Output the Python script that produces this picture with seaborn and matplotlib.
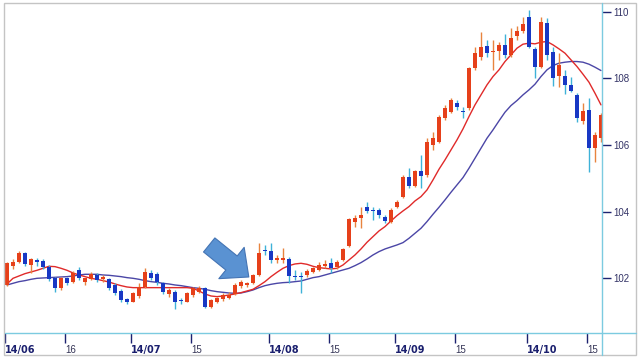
import numpy as np
import pandas as pd
import seaborn as sns
import matplotlib.pyplot as plt
from matplotlib.patches import Rectangle
from matplotlib.lines import Line2D

# daily candles, 2014-06-02 .. 2014-10-17 (trading days)
open_ = [101.8, 102.38, 102.5, 102.75, 102.4, 102.55, 102.52, 102.35, 102.02, 101.72,
         102.0, 101.88, 102.25, 101.9, 101.98, 102.1, 101.98, 101.98, 101.8, 101.62,
         101.38, 101.3, 101.48, 101.75, 102.15, 102.12, 101.85, 101.52, 101.6, 101.36,
         101.3, 101.5, 101.6, 101.72, 101.15, 101.3, 101.38, 101.42, 101.52, 101.78,
         101.8, 101.85, 102.1, 102.85, 102.82, 102.55, 102.55, 102.58, 102.05, 102.08,
         102.1, 102.2, 102.25, 102.37, 102.45, 102.35, 102.55, 102.97, 103.7, 103.8,
         104.15, 104.05, 104.05, 103.85, 103.7, 104.13, 104.43, 105.05, 104.77, 105.22,
         105.1, 106.0, 106.1, 106.8, 107.0, 107.27, 107.02, 107.1, 108.3, 108.65,
         108.97, 108.78, 108.83, 109.0, 108.7, 109.28, 109.42, 109.85, 108.87, 108.35,
         109.67, 108.8, 108.07, 108.07, 107.8, 107.5, 106.73, 107.05, 105.9, 106.2]
high_ = [102.48, 102.57, 102.82, 102.8, 102.62, 102.62, 102.58, 102.4, 102.05, 102.05,
         102.05, 102.22, 102.35, 102.02, 102.2, 102.15, 102.1, 102.0, 101.85, 101.68,
         101.42, 101.58, 101.85, 102.3, 102.25, 102.2, 101.9, 101.72, 101.65, 101.4,
         101.6, 101.75, 101.78, 101.75, 101.38, 101.45, 101.55, 101.58, 101.85, 101.95,
         101.9, 102.13, 103.05, 103.0, 103.05, 102.7, 102.92, 102.65, 102.25, 102.18,
         102.28, 102.35, 102.48, 102.55, 102.6, 102.55, 102.92, 103.82, 103.9, 104.15,
         104.28, 104.15, 104.1, 103.9, 104.1, 104.35, 105.1, 105.3, 105.25, 105.7,
         106.2, 106.4, 106.9, 107.2, 107.4, 107.35, 107.15, 108.35, 108.95, 109.4,
         109.15, 109.15, 109.1, 109.33, 109.5, 109.57, 109.85, 110.05, 108.95, 109.85,
         109.8, 108.95, 108.75, 108.25, 108.05, 107.55, 107.25, 107.4, 106.4, 106.95]
low_ = [101.78, 102.27, 102.45, 102.38, 102.15, 102.38, 102.28, 101.93, 101.6, 101.65,
        101.8, 101.85, 101.95, 101.8, 101.95, 101.9, 101.9, 101.65, 101.5, 101.3,
        101.22, 101.28, 101.4, 101.72, 101.95, 101.8, 101.52, 101.45, 101.08, 101.22,
        101.28, 101.45, 101.55, 101.1, 101.1, 101.25, 101.33, 101.38, 101.5, 101.72,
        101.75, 101.82, 102.08, 102.7, 102.45, 102.45, 102.45, 101.86, 101.95, 101.56,
        102.05, 102.15, 102.22, 102.3, 102.15, 102.28, 102.52, 102.95, 103.55, 103.5,
        103.95, 103.75, 103.82, 103.65, 103.65, 104.1, 104.4, 104.7, 104.75, 104.72,
        105.05, 105.85, 106.05, 106.75, 106.95, 107.05, 106.8, 107.05, 108.25, 108.55,
        108.65, 108.25, 108.55, 108.6, 108.65, 109.15, 109.35, 108.9, 108.0, 108.3,
        108.55, 107.78, 107.75, 107.52, 107.6, 106.7, 106.62, 105.2, 105.5, 106.1]
close_ = [102.45, 102.5, 102.75, 102.42, 102.57, 102.5, 102.33, 101.98, 101.7, 102.0,
          101.85, 102.15, 102.0, 102.0, 102.12, 101.95, 102.05, 101.72, 101.55, 101.36,
          101.28, 101.55, 101.75, 102.2, 102.02, 101.88, 101.58, 101.65, 101.3, 101.33,
          101.56, 101.7, 101.72, 101.15, 101.35, 101.4, 101.5, 101.5, 101.8, 101.9,
          101.85, 102.1, 102.76, 102.82, 102.55, 102.6, 102.62, 102.07, 102.03, 102.05,
          102.22, 102.3, 102.4, 102.43, 102.3, 102.5, 102.88, 103.77, 103.82, 103.9,
          104.02, 104.03, 103.9, 103.73, 104.05, 104.3, 105.03, 104.77, 105.23, 105.07,
          106.1, 106.2, 106.85, 107.1, 107.35, 107.15, 107.0, 108.3, 108.75, 108.93,
          108.75, 108.82, 109.0, 108.7, 109.22, 109.42, 109.62, 108.95, 108.35, 109.7,
          108.7, 108.0, 108.4, 107.8, 107.62, 106.8, 107.02, 105.9, 106.3, 106.9]

# moving averages as drawn on the chart
ma_short = [101.83, 102.0, 102.07, 102.14, 102.19, 102.24, 102.3, 102.36, 102.35, 102.3,
            102.24, 102.16, 102.1, 102.05, 102.0, 101.97, 101.93, 101.89, 101.83, 101.78,
            101.74, 101.72, 101.72, 101.72, 101.72, 101.72, 101.72, 101.72, 101.72, 101.72,
            101.72, 101.7, 101.62, 101.53, 101.47, 101.45, 101.47, 101.5, 101.53, 101.57,
            101.62, 101.67, 101.78, 101.9, 102.05, 102.18, 102.3, 102.38, 102.43, 102.45,
            102.42, 102.36, 102.32, 102.3, 102.28, 102.3, 102.4, 102.55, 102.7, 102.88,
            103.08, 103.25, 103.42, 103.55, 103.72, 103.88, 104.02, 104.15, 104.32, 104.45,
            104.65, 104.95, 105.27, 105.55, 105.85, 106.15, 106.48, 106.85, 107.2, 107.5,
            107.8, 108.05, 108.25, 108.5, 108.7, 108.9, 109.02, 109.05, 109.03, 109.08,
            109.1, 109.0, 108.88, 108.75, 108.55, 108.35, 108.12, 107.88, 107.55, 107.2]
ma_long = [101.8, 101.85, 101.9, 101.93, 101.97, 102.0, 102.01, 102.02, 102.03, 102.04,
           102.05, 102.07, 102.1, 102.12, 102.12, 102.12, 102.1, 102.09, 102.07, 102.05,
           102.02, 102.0, 101.97, 101.93, 101.9, 101.88, 101.85, 101.83, 101.8, 101.78,
           101.75, 101.72, 101.7, 101.67, 101.63, 101.6, 101.58, 101.56, 101.55, 101.56,
           101.6, 101.65, 101.72, 101.78, 101.82, 101.85, 101.87, 101.88, 101.9, 101.92,
           101.97, 102.02, 102.05, 102.1, 102.15, 102.2, 102.25, 102.3, 102.38, 102.47,
           102.58, 102.7, 102.8, 102.88, 102.94, 103.0, 103.07, 103.2, 103.35, 103.5,
           103.7, 103.92, 104.13, 104.35, 104.58, 104.8, 105.02, 105.3, 105.6, 105.9,
           106.2, 106.45, 106.72, 106.98, 107.18, 107.33, 107.5, 107.65, 107.82, 108.05,
           108.25, 108.38, 108.45, 108.48, 108.5, 108.5, 108.48, 108.42, 108.33, 108.23]

tick_days = [0, 10, 21, 31, 44, 54, 65, 75, 87, 97]
tick_labels = ['14/06', '16', '14/07', '15', '14/08', '15', '14/09', '15', '14/10', '15']
y_ticks = [102, 104, 106, 108, 110]

df = pd.DataFrame({'day': np.arange(len(close_)), 'open': open_, 'high': high_,
                   'low': low_, 'close': close_, 'ma_short': ma_short, 'ma_long': ma_long})

sns.set_theme(style='white')
plt.rcParams['font.family'] = ['DejaVu Sans']

fig = plt.figure(figsize=(6.42, 3.6), dpi=100)
ax = fig.add_axes([5 / 642, 27 / 360, 597 / 642, 330 / 360])

# moving averages
sns.lineplot(data=df, x='day', y='ma_long', color='#4b46a6', lw=1, ax=ax, zorder=2)
sns.lineplot(data=df, x='day', y='ma_short', color='#e02a2a', lw=1, ax=ax, zorder=2)

# candles
up = df[df.close >= df.open]
dn = df[df.close < df.open]
ax.vlines(up.day, up.low, up.high, color='#e8843e', lw=1, zorder=3)
ax.bar(up.day, (up.close - up.open).clip(lower=0.03), bottom=up.open,
       width=0.55, color='#e6401a', lw=0, zorder=4)
ax.vlines(dn.day, dn.low, dn.high, color='#3eb2d8', lw=1, zorder=3)
ax.bar(dn.day, (dn.open - dn.close).clip(lower=0.03), bottom=dn.close,
       width=0.55, color='#1838c4', lw=0, zorder=4)

# arrow
ax.annotate('', xy=(40.3, 102.04), xytext=(33.7, 103.0),
            arrowprops=dict(arrowstyle='simple,head_length=0.8,head_width=1.45,tail_width=0.65',
                            fc='#5a92d2', ec='#4474b4', lw=0.8, shrinkA=0, shrinkB=0,
                            mutation_scale=20), zorder=5)

ax.set_xlim(-1 / 3, 99.17)
ax.set_ylim(100.36, 110.255)
ax.set_xlabel('')
ax.set_ylabel('')
for s in ax.spines.values():
    s.set_visible(False)

ax.set_xticks([d - 1 / 3 for d in tick_days])
ax.set_xticklabels(tick_labels)
ax.tick_params(axis='x', bottom=True, direction='out', length=7, width=1,
               color='#1c2270', pad=1.5)
for lbl in ax.get_xticklabels():
    lbl.set_ha('left')
    if '/' in lbl.get_text():
        lbl.set_fontweight('bold')
        lbl.set_fontsize(7)
        lbl.set_color('#1a1f6e')
    else:
        lbl.set_family(['Liberation Sans'])
        lbl.set_fontsize(7)
        lbl.set_color('#333355')

ax.yaxis.tick_right()
ax.set_yticks(y_ticks)
ax.set_yticklabels([str(v) for v in y_ticks], family=['Liberation Sans'])
ax.tick_params(axis='y', right=True, left=False, direction='out', length=6.5, width=1,
               color='#1c2270', labelsize=7, labelcolor='#333366', pad=2)

# frame lines and outer border
fig.add_artist(Line2D([5 / 642, 636 / 642], [27 / 360, 27 / 360], color='#7ccbe0', lw=1))
fig.add_artist(Line2D([602 / 642, 602 / 642], [5 / 360, 357 / 360], color='#7ccbe0', lw=1))
fig.add_artist(Rectangle((4 / 642, 5 / 360), 632 / 642, 352 / 360, fill=False,
                         ec='#c4c4c4', lw=1, transform=fig.transFigure))

fig.savefig('out.png', dpi=100)
